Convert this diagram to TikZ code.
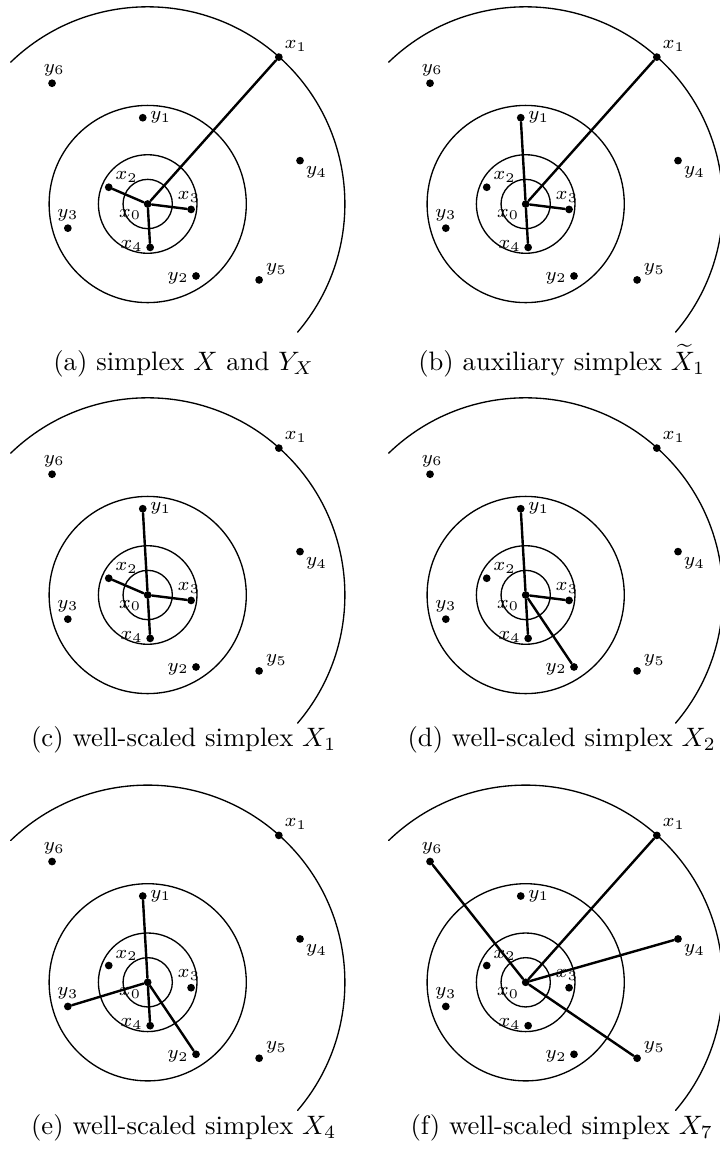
\documentclass[tikz,border=0pt]{standalone}
\usepackage{amsmath}

% one panel: rings, big arc and the eleven points, names start with #1
\newcommand{\simplexbase}[1]{%
	\draw[ring] (0,0) circle (0.5) (0,0) circle (1) (0,0) circle (2);
	\draw[ring] (134:4) arc (134:-40.5:4);
	\node[dot,label={[lab]215:$x_0$}] (#1x0) at (0,0) {};
	\node[dot,label={[lab]above right:$x_1$}] (#1x1) at (2.66,2.98) {};
	\node[dot,label={[lab]30:$x_2$}] (#1x2) at (-0.79,0.34) {};
	\node[dot,label={[lab,xshift=-0.8pt]above:$x_3$}] (#1x3) at (0.88,-0.11) {};
	\node[dot,label={[lab,yshift=0.6pt]left:$x_4$}] (#1x4) at (0.05,-0.88) {};
	\node[dot,label={[lab]right:$y_1$}] (#1y1) at (-0.10,1.75) {};
	\node[dot,label={[lab,yshift=-0.8pt]left:$y_2$}] (#1y2) at (0.98,-1.46) {};
	\node[dot,label={[lab]above:$y_3$}] (#1y3) at (-1.62,-0.49) {};
	\node[dot,label={[lab]below right:$y_4$}] (#1y4) at (3.09,0.88) {};
	\node[dot,label={[lab]30:$y_5$}] (#1y5) at (2.26,-1.54) {};
	\node[dot,label={[lab,xshift=0.8pt]above:$y_6$}] (#1y6) at (-1.94,2.45) {};
}

\begin{document}
\begin{tikzpicture}[x=18.5pt,y=18.5pt,line join=round,line cap=round,
	ring/.style={line width=0.5pt},
	edge/.style={line width=0.9pt},
	dot/.style={circle,fill,inner sep=0pt,minimum size=2.9pt},
	lab/.style={font=\fontsize{7}{8}\selectfont,inner sep=0.6pt,label distance=0.3pt},
	caption/.style={anchor=base,font=\normalsize}]
	\useasboundingbox (-2.996,4.138) rectangle (11.608,-19.209);
	\clip (-2.996,4.138) rectangle (11.608,-19.209);
	% (a)
	\begin{scope}
		\simplexbase{a}
		\foreach \v in {x1,x2,x3,x4} \draw[edge] (ax0) -- (a\v);
		\node[caption] (acap) at (0.73,-3.37) {(a) simplex $X$ and $Y_X$};
	\end{scope}
	% (b)
	\begin{scope}[shift={(7.667,0)}]
		\simplexbase{b}
		\foreach \v in {x1,x3,x4,y1} \draw[edge] (bx0) -- (b\v);
		\node[caption] (bcap) at (0.73,-3.37) {(b) auxiliary simplex $\widetilde{X}_1$};
	\end{scope}
	% (c)
	\begin{scope}[shift={(0,-7.931)}]
		\simplexbase{c}
		\foreach \v in {x2,x3,x4,y1} \draw[edge] (cx0) -- (c\v);
		\node[caption] (ccap) at (0.73,-3.08) {(c) well-scaled simplex $X_1$};
	\end{scope}
	% (d)
	\begin{scope}[shift={(7.667,-7.931)}]
		\simplexbase{d}
		\foreach \v in {x3,x4,y1,y2} \draw[edge] (dx0) -- (d\v);
		\node[caption] (dcap) at (0.73,-3.08) {(d) well-scaled simplex $X_2$};
	\end{scope}
	% (e)
	\begin{scope}[shift={(0,-15.787)}]
		\simplexbase{e}
		\foreach \v in {x4,y1,y2,y3} \draw[edge] (ex0) -- (e\v);
		\node[caption] (ecap) at (0.73,-3.08) {(e) well-scaled simplex $X_4$};
	\end{scope}
	% (f)
	\begin{scope}[shift={(7.667,-15.787)}]
		\simplexbase{f}
		\foreach \v in {x1,y4,y5,y6} \draw[edge] (fx0) -- (f\v);
		\node[caption] (fcap) at (0.73,-3.08) {(f) well-scaled simplex $X_7$};
	\end{scope}
\end{tikzpicture}
\end{document}
